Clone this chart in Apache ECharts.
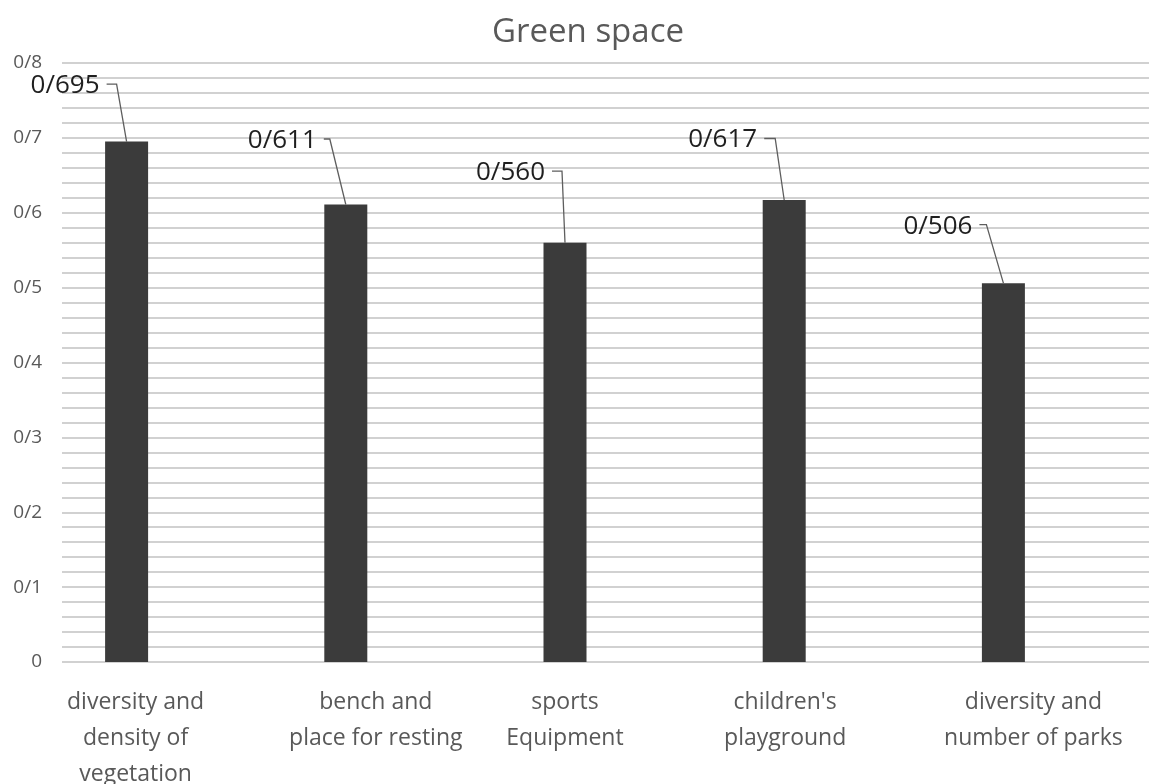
<!DOCTYPE html>
<html>
<head>
<meta charset="utf-8">
<title>Green space</title>
<script src="https://cdn.jsdelivr.net/npm/echarts@6/dist/echarts.min.js"></script>
<style>
html, body { margin:0; padding:0; background:#fff; }
#main { width:1149px; height:784px; }
</style>
</head>
<body>
<div id="main"></div>
<script>
// categories and values
var categories = [
	'diversity and\ndensity of\nvegetation',
	'bench and\nplace for resting',
	'sports\nEquipment',
	"children's\nplayground",
	'diversity and\nnumber of parks'
] ;
var values = [0.695, 0.611, 0.560, 0.617, 0.506] ;
var valueLabels = ['0/695', '0/611', '0/560', '0/617', '0/506'] ;
var yTickLabels = ['0', '0/1', '0/2', '0/3', '0/4', '0/5', '0/6', '0/7', '0/8'] ;

// label placement (pixels, relative to bar top)
var labelDx = [-27, -29, -20, -27, -31] ;
var labelDy = [-56, -64, -70, -60, -57] ;
var elbowDx = [-10, -16, -3, -9, -17] ;
var catShift = [9, 30, 0, 1, 30] ;

var FONT = '"Open Sans", "Noto Sans", sans-serif' ;

function initChart()
{
	var catData = [] ;
	for( var i = 0 ; i < categories.length ; i++ )
	{
		catData.push( { value : categories[i], textStyle : { padding : [0, 0, 0, catShift[i]*2] } } ) ;
	}

	var labelData = [] ;
	for( var j = 0 ; j < values.length ; j++ )
	{
		labelData.push( [j, values[j]] ) ;
	}

	var option = {
		backgroundColor : '#ffffff',
		animation : false,
		title : {
			text : 'Green space',
			left : 583,
			textAlign : 'center',
			top : 11,
			textStyle : { fontFamily : FONT, fontSize : 33, fontWeight : 'normal', color : '#595959' }
		},
		grid : [
			{ left : 62, right : 0, top : 63, bottom : 122, containLabel : false, outerBoundsMode : 'none' },
			{ left : 17, right : 36, top : 63, bottom : 122, containLabel : false, outerBoundsMode : 'none' }
		],
		xAxis : [
			{ type : 'value', gridIndex : 0, show : false },
			{
				type : 'category', gridIndex : 1, data : catData,
				axisLine : { show : false }, axisTick : { show : false },
				axisLabel : {
					interval : 0, margin : 22, color : '#595959',
					fontFamily : FONT, fontSize : 23, lineHeight : 36
				}
			}
		],
		yAxis : [
			{
				type : 'value', gridIndex : 0, min : 0, max : 0.8, interval : 0.02,
				axisLine : { show : false }, axisTick : { show : false },
				splitLine : { show : true, lineStyle : { color : '#c2c2c2', width : 1.5 } },
				axisLabel : {
					margin : 20, color : '#595959', fontFamily : FONT, fontSize : 19,
					formatter : function ( v )
					{
						var k = Math.round( v * 100 ) ;
						if ( k % 10 !== 0 ) return '' ;
						return yTickLabels[k / 10] ;
					}
				}
			},
			{ type : 'value', gridIndex : 1, min : 0, max : 0.8, interval : 0.02, show : false, splitLine : { show : false } }
		],
		series : [
			{
				type : 'bar', xAxisIndex : 1, yAxisIndex : 1,
				data : values, barWidth : 43,
				itemStyle : { color : '#3b3b3b' }
			},
			{
				type : 'custom', xAxisIndex : 1, yAxisIndex : 1, z : 5,
				data : labelData,
				renderItem : function ( params, api )
				{
					var idx = params.dataIndex ;
					var p = api.coord( [api.value(0), api.value(1)] ) ;
					var tx = p[0] + labelDx[idx] ;
					var ty = p[1] + labelDy[idx] ;
					return {
						type : 'group',
						children : [
							{
								type : 'polyline',
								shape : { points : [ [tx + 7, ty - 1.5], [p[0] + elbowDx[idx], ty - 1.5], [p[0], p[1]] ] },
								style : { stroke : '#5e5e5e', lineWidth : 1.3, fill : null }
							},
							{
								type : 'text',
								style : {
									text : valueLabels[idx], x : tx, y : ty,
									align : 'right', verticalAlign : 'middle',
									fontFamily : FONT, fontSize : 26, fill : '#1f1f1f'
								}
							}
						]
					} ;
				}
			}
		]
	} ;

	var myChart = echarts.init( document.getElementById('main') ) ;
	myChart.setOption( option ) ;
}

initChart() ;
</script>
</body>
</html>
